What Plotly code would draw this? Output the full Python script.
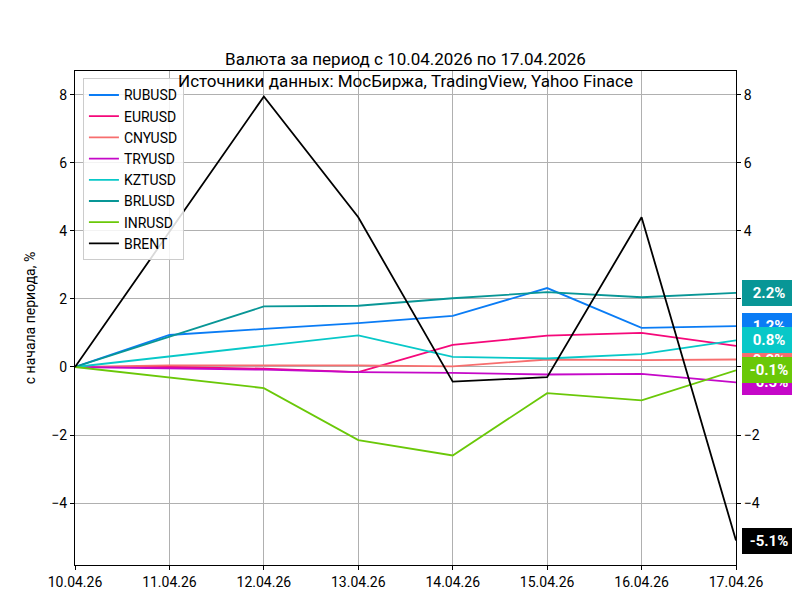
import plotly.graph_objects as go

dates = ["10.04.26","11.04.26","12.04.26","13.04.26","14.04.26","15.04.26","16.04.26","17.04.26"]
names = ["RUBUSD","EURUSD","CNYUSD","TRYUSD","KZTUSD","BRLUSD","INRUSD","BRENT"]
colors = ["#0a7cf5","#f5087a","#f76e6e","#c508c8","#08c8c8","#089696","#6ac808","#000000"]
RUBUSD = [0, 0.94, 1.12, 1.29, 1.5, 2.32, 1.15, 1.2]
EURUSD = [0, 0.0, -0.05, -0.15, 0.65, 0.92, 1.0, 0.62]
CNYUSD = [0, 0.05, 0.05, 0.05, 0.02, 0.22, 0.2, 0.22]
TRYUSD = [0, -0.03, -0.08, -0.15, -0.17, -0.22, -0.2, -0.45]
KZTUSD = [0, 0.3, 0.62, 0.93, 0.3, 0.25, 0.38, 0.78]
BRLUSD = [0, 0.9, 1.78, 1.8, 2.02, 2.2, 2.05, 2.18]
INRUSD = [0, -0.3, -0.62, -2.15, -2.6, -0.77, -0.98, -0.1]
BRENT = [0, 3.97, 7.95, 4.4, -0.43, -0.3, 4.4, -5.1]
series = [RUBUSD, EURUSD, CNYUSD, TRYUSD, KZTUSD, BRLUSD, INRUSD, BRENT]

yr = [-5.82, 8.7]
fig = go.Figure()
x = list(range(len(dates)))
for n, c, s in zip(names, colors, series):
    fig.add_trace(go.Scatter(x=x, y=s, name=n, mode="lines", line=dict(color=c, width=1.8)))
    fig.add_annotation(x=1, xref="paper", xanchor="left", xshift=6, y=s[-1], yref="y",
                       text="<b>%.1f%%</b>" % s[-1], showarrow=False, bgcolor=c,
                       font=dict(color="white", size=15, family="Roboto"),
                       width=48, height=20, borderpad=2, bordercolor=c)
fig.add_trace(go.Scatter(x=[0], y=[0], yaxis="y2", showlegend=False, hoverinfo="skip",
                         mode="markers", marker=dict(opacity=0)))
ax = dict(showline=True, linecolor="black", mirror=True, ticks="outside", ticklen=4,
          tickcolor="black", tickfont=dict(size=14, color="black"), automargin=False)
fig.update_layout(
    width=800, height=600, paper_bgcolor="white", plot_bgcolor="white",
    font=dict(family="Roboto", color="black"),
    title=dict(text="Валюта за период с 10.04.2026 по 17.04.2026<br>Источники данных: МосБиржа, TradingView, Yahoo Finace",
               x=0.5, xanchor="center", xref="paper", yref="container", y=0.905, yanchor="bottom",
               font=dict(size=17), automargin=False),
    margin=dict(l=67, r=72, t=63, b=43, autoexpand=False),
    xaxis=dict(tickvals=x, ticktext=dates, range=[0, 7], showgrid=True, gridcolor="#b0b0b0", zeroline=False, **ax),
    yaxis=dict(range=yr, dtick=2, showgrid=True, gridcolor="#b0b0b0", zeroline=False,
               title=dict(text="с начала периода, %", font=dict(size=14), standoff=12), **ax),
    yaxis2=dict(range=yr, dtick=2, overlaying="y", side="right", showgrid=False, zeroline=False, automargin=False,
                ticks="outside", ticklen=4, tickcolor="black", tickfont=dict(size=14, color="black")),
    legend=dict(x=0.012, y=0.985, xanchor="left", yanchor="top", bordercolor="#cccccc", borderwidth=1,
                bgcolor="rgba(255,255,255,0.85)", font=dict(size=14)),
    showlegend=True,
)
fig.write_html("out.html")
